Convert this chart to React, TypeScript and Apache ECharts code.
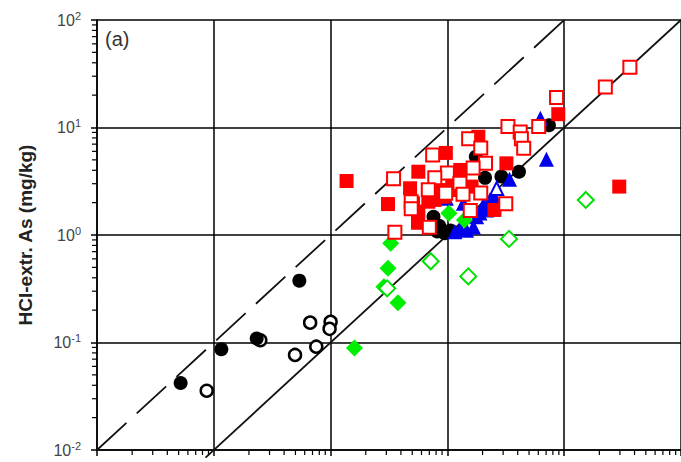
import React, { useEffect, useRef } from "react";
import * as echarts from "echarts";

// ---- data (x, y) ----
const blackOpen: number[][] = [
  [0.0087, 0.0356], [0.025, 0.105], [0.0496, 0.0766], [0.0668, 0.153],
  [0.0754, 0.0914], [0.1, 0.156], [0.098, 0.134],
];
const blackFilled: number[][] = [
  [0.0052, 0.042], [0.0116, 0.0865], [0.0233, 0.109], [0.054, 0.376],
  [0.76, 1.48], [0.85, 1.22], [0.82, 1.08], [0.95, 1.04], [1.06, 1.1],
  [1.75, 5.35], [2.1, 3.4], [2.9, 3.5], [4.1, 3.88], [7.4, 10.5],
];
const blueFilled: number[][] = [
  [6.25, 12.2], [7.05, 5.06], [3.4, 3.3], [2.17, 1.71], [1.78, 1.48],
  [1.67, 1.19], [1.28, 1.15], [1.16, 1.07], [1.46, 1.11], [2.31, 2.12],
  [2.03, 1.9], [1.37, 1.97], [0.98, 2.2], [2.5, 2.3], [1.9, 1.6],
];
const blueOpen: number[][] = [[2.64, 2.71]];
const greenFilled: number[][] = [
  [0.16, 0.089], [0.377, 0.234], [0.31, 0.49], [0.327, 0.836], [0.286, 0.33],
  [1.03, 1.59], [1.4, 1.38],
];
const greenOpen: number[][] = [
  [15.3, 2.12], [3.37, 0.92], [1.51, 0.412], [0.72, 0.57], [0.305, 0.319],
];
const redFilled: number[][] = [
  [0.137, 3.18], [0.31, 1.94], [29.6, 2.82], [8.9, 13.3], [3.2, 4.64],
  [1.84, 8.2], [0.97, 5.8], [0.564, 3.88], [0.479, 2.72], [0.508, 1.97],
  [0.564, 1.65], [0.56, 1.3], [0.687, 2.04], [0.78, 2.12], [1.29, 4.03],
  [1.1, 2.82], [1.61, 2.82], [2.53, 1.71], [0.93, 2.27], [0.865, 2.62],
  [1.12, 3.48], [1.28, 2.62],
];
const redOpen: number[][] = [
  [36.5, 36.4], [22.5, 23.8], [8.6, 19], [6.05, 10.2], [3.3, 10.2],
  [4.2, 9.1], [4.3, 7.85], [4.5, 6.4], [1.52, 7.85], [1.93, 6.45],
  [0.748, 5.55], [2.12, 4.64], [1.66, 4.2], [1.0, 3.78], [0.78, 3.41],
  [0.346, 3.34], [1.28, 3.03], [0.686, 2.64], [0.967, 2.44], [1.93, 2.46],
  [0.49, 2.04], [0.49, 1.75], [1.36, 2.39], [3.16, 1.95], [1.57, 1.69],
  [0.7, 1.18], [0.355, 1.06],
];
// reference lines: 1:1 (solid) and 10:1 (dashed)
const lineOneToOne: number[][] = [[0.0085, 0.0085], [100, 100]];
const lineTenToOne: number[][] = [[0.001, 0.01], [11.8, 118]];

const X_MIN = 0.001;
const X_MAX = 100;
const Y_MIN = 0.01;
const Y_MAX = 100;
const yAxisName = "HCl-extr. As (mg/kg)";
const panelLabel = "(a)";

const minorValues = (lo: number, hi: number) => {
  const out: number[] = [];
  for (let d = lo; d < hi; d *= 10) {
    for (let k = 2; k <= 9; k++) out.push(+(k * d).toPrecision(3));
  }
  return out;
};

const FONT = "'Liberation Sans', Arial, sans-serif";

export default function App() {
  const ref = useRef<HTMLDivElement>(null);
  useEffect(() => {
    if (!ref.current) return;
    const chart = echarts.init(ref.current, undefined, { renderer: "svg" });
    const scatter = (data: number[][], symbol: string, size: number, fill: string, border: string, bw: number) => ({
      type: "scatter",
      data,
      symbol,
      symbolSize: size,
      itemStyle: { color: fill, borderColor: border, borderWidth: bw, opacity: 1 },
      silent: true,
      z: 5,
    });
    const xMinor = minorValues(X_MIN, X_MAX);
    const yMinor = minorValues(Y_MIN, Y_MAX);
    chart.setOption({
      animation: false,
      backgroundColor: "#fff",
      textStyle: { fontFamily: FONT },
      grid: { left: 97, top: 20, width: 584, height: 430, show: false },
      xAxis: {
        type: "log",
        logBase: 10,
        min: X_MIN,
        max: X_MAX,
        splitNumber: 5,
        axisLine: { show: true, lineStyle: { color: "#000", width: 1.5 } },
        axisTick: { show: true, inside: false, length: 6, lineStyle: { color: "#000", width: 1.5 } },
        axisLabel: { show: false },
        splitLine: { show: true, lineStyle: { color: "#000", width: 1.5 } },
      },
      yAxis: {
        type: "log",
        logBase: 10,
        min: Y_MIN,
        max: Y_MAX,
        splitNumber: 4,
        name: yAxisName,
        nameLocation: "middle",
        nameRotate: 90,
        nameGap: 62,
        nameTextStyle: { fontSize: 19, fontWeight: "bold", color: "#222", fontFamily: FONT },
        axisLine: { show: true, lineStyle: { color: "#000", width: 1.5 } },
        axisTick: { show: true, inside: false, length: 6, lineStyle: { color: "#000", width: 1.5 } },
        axisLabel: {
          margin: 16,
          formatter: (v: number) => `{b|10}{s|${Math.round(Math.log10(v))}}`,
          rich: {
            b: { fontSize: 16, color: "#444", fontFamily: FONT },
            s: { fontSize: 11, color: "#444", fontFamily: FONT, padding: [0, 0, 9, 0] },
          },
        },
        splitLine: { show: true, lineStyle: { color: "#000", width: 1.5 } },
      },
      graphic: [
        {
          type: "text",
          left: 105,
          top: 29,
          style: { text: panelLabel, fontSize: 20, fill: "#333", fontFamily: FONT },
        },
      ],
      series: [
        {
          type: "custom",
          coordinateSystem: "cartesian2d",
          data: xMinor.map((v) => [v, Y_MIN]),
          clip: false,
          silent: true,
          z: 3,
          renderItem: (_p: any, api: any) => {
            const pt = api.coord([api.value(0), api.value(1)]);
            return {
              type: "line",
              shape: { x1: pt[0], y1: pt[1], x2: pt[0], y2: pt[1] + 5 },
              style: { stroke: "#000", lineWidth: 1.2 },
            };
          },
        },
        {
          type: "custom",
          coordinateSystem: "cartesian2d",
          data: yMinor.map((v) => [X_MIN, v]),
          clip: false,
          silent: true,
          z: 3,
          renderItem: (_p: any, api: any) => {
            const pt = api.coord([api.value(0), api.value(1)]);
            return {
              type: "line",
              shape: { x1: pt[0] - 5, y1: pt[1], x2: pt[0], y2: pt[1] },
              style: { stroke: "#000", lineWidth: 1.2 },
            };
          },
        },
        {
          type: "line",
          data: lineOneToOne,
          showSymbol: false,
          clip: false,
          silent: true,
          z: 4,
          lineStyle: { color: "#111", width: 1.8 },
        },
        {
          type: "line",
          data: lineTenToOne,
          showSymbol: false,
          clip: false,
          silent: true,
          z: 4,
          lineStyle: { color: "#111", width: 1.8, type: [40, 14] },
        },
        scatter(blackOpen, "circle", 12, "#fff", "#000", 2.5),
        scatter(blackFilled, "circle", 14, "#000", "#000", 0),
        scatter(blueFilled, "triangle", 15, "#0000ee", "#0000ee", 0),
        scatter(blueOpen, "triangle", 13, "#fff", "#0000ee", 2),
        scatter(greenFilled, "diamond", 17, "#00ee00", "#00ee00", 0),
        scatter(greenOpen, "diamond", 16, "#fff", "#00e000", 2),
        scatter(redFilled, "rect", 14, "#ff0000", "#ff0000", 0),
        scatter(redOpen, "rect", 13, "#fff", "#ff0000", 2),
      ],
    });
    return () => chart.dispose();
  }, []);
  return (
    <div
      ref={ref}
      style={{ position: "fixed", left: 0, top: 0, width: 681, height: 462, background: "#fff" }}
    />
  );
}
